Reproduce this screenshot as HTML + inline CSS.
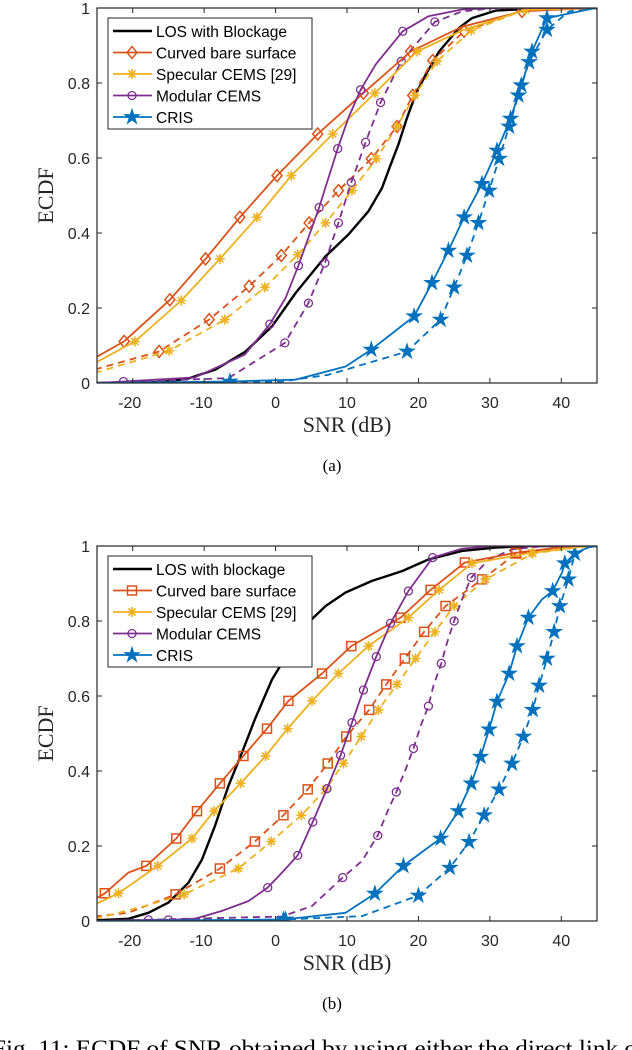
<!DOCTYPE html>
<html><head><meta charset="utf-8"><style>
html,body{margin:0;padding:0;background:#fff;width:632px;height:1050px;overflow:hidden}
svg{display:block}
</style></head><body>
<svg id="fig" width="632" height="1050" xmlns="http://www.w3.org/2000/svg">
<text x="-8" y="1056" font-family="Liberation Serif, serif" font-size="23" textLength="645" lengthAdjust="spacingAndGlyphs" fill="#000">Fig. 11: ECDF of SNR obtained by using either the direct link o</text>
</svg>
<script>
// ---- data: panel (a) ----
const xTicks=[-20,-10,0,10,20,30,40];
const yTicks=[0,0.2,0.4,0.6,0.8,1];
const yTickLabels=["0","0.2","0.4","0.6","0.8","1"];
const legendA=["LOS with Blockage","Curved bare surface","Specular CEMS [29]","Modular CEMS","CRIS"];
const legendB=["LOS with blockage","Curved bare surface","Specular CEMS [29]","Modular CEMS","CRIS"];

const aLosX=[-25,-15.9,-12.2,-8.4,-4.2,-0.5,2.8,7.0,10.2,13.0,14.9,16.1,17.2,18.4,19.6,21.0,22.9,25.7,27.5,30.8,35.5,45];
const aLosY=[0,0.003,0.012,0.036,0.084,0.151,0.24,0.338,0.396,0.458,0.52,0.582,0.636,0.707,0.769,0.822,0.884,0.947,0.973,0.993,0.998,1];
const aCurX=[-25.3,-21.2,-14.8,-9.8,-5.0,0.2,5.9,12.3,18.9,26.1,34.5,44.8];
const aCurY=[0.067,0.111,0.222,0.331,0.442,0.553,0.664,0.773,0.884,0.95,0.991,1];
const aCurMk=[1,2,3,4,5,6,7,8,10];
const aSpeX=[-25.3,-19.7,-13.2,-7.8,-2.6,2.2,8.0,13.9,19.8,26.1,35,44.8];
const aSpeY=[0.053,0.111,0.22,0.331,0.442,0.553,0.664,0.773,0.884,0.94,0.995,1];
const aSpeMk=[1,2,3,4,5,6,7,8,10];
const aCurDX=[-25.3,-16.3,-9.3,-3.7,0.8,4.7,8.8,13.4,17.0,19.2,22.0,26.4,34.5,44.8];
const aCurDY=[0.036,0.084,0.169,0.258,0.34,0.427,0.513,0.598,0.684,0.767,0.86,0.938,0.993,1];
const aCurDMk=[1,2,3,4,5,6,7,8,9,10,11];
const aSpeDX=[-25.3,-14.9,-7.1,-1.5,3.1,7.0,10.7,14.1,17.0,19.5,22.6,27.4,35.0,44.8];
const aSpeDY=[0.027,0.086,0.169,0.255,0.342,0.427,0.513,0.598,0.684,0.767,0.858,0.94,0.996,1];
const aSpeDMk=[1,2,3,4,5,6,7,8,9,10,11];
const aModX=[-25,-21.3,-11.3,-4.3,-0.8,1.4,3.2,6.1,8.7,10.2,11.9,14.0,17.8,21.4,26.1,30.8,45];
const aModY=[0,0.004,0.015,0.076,0.157,0.227,0.313,0.468,0.625,0.707,0.782,0.849,0.938,0.978,0.996,1,1];
const aModMk=[1,4,6,7,8,10,12];
const aModDX=[-25,-6.6,1.3,4.6,6.9,8.8,10.6,12.6,14.7,17.6,22.3,26.1,30.8,45];
const aModDY=[0,0.013,0.107,0.213,0.32,0.427,0.535,0.642,0.748,0.858,0.963,0.991,1,1];
const aModDMk=[2,3,4,5,6,7,8,9,10];
const aCrisX=[-25,-6.4,2.8,9.8,13.4,19.4,21.9,24.2,26.4,28.9,31.0,32.9,34.4,35.9,38.0,44.8];
const aCrisY=[0,0.004,0.009,0.044,0.089,0.178,0.267,0.353,0.442,0.531,0.62,0.705,0.794,0.884,0.973,1];
const aCrisMk=[1,4,5,6,7,8,9,10,11,12,13,14];
const aCrisDX=[-25,0.9,7.4,18.4,23.1,25.0,26.8,28.4,29.9,31.3,32.7,34.0,35.5,38.0,41.1,44.8];
const aCrisDY=[0,0.004,0.022,0.084,0.169,0.255,0.34,0.427,0.513,0.598,0.684,0.767,0.856,0.942,0.991,1];
const aCrisDMk=[3,4,5,6,7,8,9,10,11,12,13];

// ---- data: panel (b) ----
const bLosX=[-25.3,-20.6,-17.8,-15.0,-12.2,-10.3,-8.5,-6.6,-4.7,-2.9,-0.5,1.8,4.6,7.0,9.8,13.5,17.7,21.4,26.1,30.8,35.5,45];
const bLosY=[0.002,0.006,0.022,0.049,0.102,0.164,0.253,0.36,0.449,0.538,0.644,0.716,0.796,0.84,0.876,0.907,0.933,0.964,0.987,0.996,1,1];
const bCurX=[-25.3,-23.9,-20.6,-18.1,-13.9,-11.0,-7.8,-4.5,-1.2,1.8,6.5,10.6,17.5,21.7,26.5,33.6,40.1,45];
const bCurY=[0.058,0.074,0.129,0.147,0.22,0.293,0.367,0.44,0.513,0.587,0.66,0.733,0.809,0.883,0.956,0.982,0.997,1];
const bCurMk=[1,3,4,5,6,7,8,9,10,11,12,13,14,15];
const bSpeX=[-25.3,-22.0,-16.5,-11.7,-8.6,-4.9,-1.4,1.7,5.1,8.8,13.0,18.6,22.9,27.5,35.9,42.5,45];
const bSpeY=[0.044,0.074,0.147,0.22,0.293,0.367,0.44,0.513,0.587,0.66,0.733,0.809,0.883,0.954,0.982,0.997,1];
const bSpeMk=[1,2,3,4,5,6,7,8,9,10,11,12,13,14];
const bCurDX=[-25.3,-20.6,-14.0,-7.8,-2.9,1.1,4.5,7.3,9.9,13.1,15.5,18.1,20.8,23.8,28.9,33.7,40.1,45];
const bCurDY=[0.012,0.022,0.071,0.14,0.212,0.282,0.351,0.42,0.492,0.563,0.631,0.7,0.771,0.84,0.911,0.98,0.997,1];
const bCurDMk=[2,3,4,5,6,7,8,9,10,11,12,13,14,15];
const bSpeDX=[-25.3,-18.3,-12.8,-5.2,-0.6,3.6,7.0,9.5,12.0,14.4,17.0,19.6,22.3,25.0,29.4,36.0,42.5,45];
const bSpeDY=[0.006,0.04,0.071,0.14,0.212,0.282,0.351,0.42,0.492,0.563,0.631,0.7,0.771,0.84,0.911,0.98,0.997,1];
const bSpeDMk=[2,3,4,5,6,7,8,9,10,11,12,13,14,15];
const bModX=[-25,-17.8,-15.0,-11.3,-7.5,-3.8,-1.1,0.9,3.1,5.2,7.2,9.1,10.7,12.3,14.1,16.1,18.6,22.0,26.1,30.8,45];
const bModY=[0,0.003,0.003,0.006,0.027,0.053,0.089,0.129,0.175,0.264,0.353,0.442,0.529,0.616,0.705,0.794,0.88,0.969,0.993,1,1];
const bModMk=[1,2,6,8,9,10,11,12,13,14,15,16,17];
const bModDX=[-25,0.9,5.1,9.4,12.1,14.3,15.6,16.9,18.2,19.3,20.3,21.4,22.1,23.2,24.0,25.0,26.1,27.4,29.9,33.1,37.8,45];
const bModDY=[0,0.012,0.04,0.116,0.16,0.228,0.289,0.344,0.404,0.46,0.52,0.573,0.627,0.687,0.742,0.8,0.858,0.916,0.964,0.991,1,1];
const bModDMk=[3,5,7,9,11,13,15,17];
const bCrisX=[-25,1.1,9.8,13.9,17.9,21.0,23.1,24.5,25.6,26.6,27.4,28.7,29.9,31.0,32.7,33.8,35.4,37.3,38.8,40.1,40.5,42.0,43.9,45];
const bCrisY=[0,0.004,0.022,0.073,0.147,0.191,0.22,0.262,0.293,0.335,0.367,0.438,0.511,0.585,0.66,0.733,0.809,0.858,0.88,0.929,0.954,0.982,0.997,1];
const bCrisMk=[1,3,4,6,8,10,11,12,13,14,15,16,18,20];
const bCrisDX=[-25,1.4,12.1,20.0,24.4,27.1,29.2,31.3,33.1,34.7,36.0,36.9,38.0,39.0,39.8,41.0,41.9,43.9,45];
const bCrisDY=[0,0.004,0.013,0.068,0.142,0.211,0.282,0.351,0.42,0.492,0.563,0.628,0.7,0.771,0.84,0.911,0.98,0.997,1];
const bCrisDMk=[1,3,4,5,6,7,8,9,10,11,12,13,14,15,16];

const C={los:"#000000",cur:"#D95319",spe:"#EDB120",mod:"#7E2F8E",cris:"#0072BD"};
const NS="http://www.w3.org/2000/svg";
const svg=document.getElementById('fig');
function mk(tag,attrs,parent){const e=document.createElementNS(NS,tag);for(const k in attrs)e.setAttribute(k,attrs[k]);(parent||svg).appendChild(e);return e;}

function marker(g,type,cx,cy,color){
  let e;
  if(type==='diamond'){e=mk('polygon',{points:`${cx},${cy-6} ${cx+5},${cy} ${cx},${cy+6} ${cx-5},${cy}`,fill:'none',stroke:color,'stroke-width':1.5},g);}
  else if(type==='square'){e=mk('rect',{x:cx-4.5,y:cy-4.5,width:9,height:9,fill:'none',stroke:color,'stroke-width':1.5},g);}
  else if(type==='circle'){e=mk('circle',{cx:cx,cy:cy,r:4,fill:'none',stroke:color,'stroke-width':1.3},g);}
  else if(type==='aster'){let d='';for(let i=0;i<4;i++){const a=i*Math.PI/4;d+=`M${cx-5*Math.cos(a)},${cy-5*Math.sin(a)}L${cx+5*Math.cos(a)},${cy+5*Math.sin(a)}`;}e=mk('path',{d:d,stroke:color,'stroke-width':1.6,fill:'none'},g);}
  else if(type==='star'){let p=[];for(let i=0;i<10;i++){const r=i%2?3:8;const a=-Math.PI/2+i*Math.PI/5;p.push((cx+r*Math.cos(a)).toFixed(1)+','+(cy+r*Math.sin(a)).toFixed(1));}e=mk('polygon',{points:p.join(' '),fill:color,stroke:color,'stroke-width':0.8},g);}
  
  
}

function panel(id,top,label,legend,series){
  const L=97,R=597,T=top,B=top+375;
  const sx=v=>L+(v+25)/70*(R-L);
  const sy=v=>B-v*(B-T);
  const g=mk('g',{});
  
  
  mk('rect',{x:L,y:T,width:R-L,height:B-T,fill:'#fff'},g);
  const clipId='clip'+id;
  const cp=mk('clipPath',{id:clipId},g);mk('rect',{x:L,y:T,width:R-L,height:B-T},cp);
  const plot=mk('g',{'clip-path':`url(#${clipId})`},g);
  series.forEach(s=>{
    const sg=mk('g',{},plot);
    
    
    const pts=s.x.map((v,i)=>sx(v).toFixed(1)+','+sy(s.y[i]).toFixed(1)).join(' ');
    const pl=mk('polyline',{points:pts,fill:'none',stroke:s.c,'stroke-width':s.c==='#000000'?2.4:1.8,'stroke-dasharray':s.dash?'7,5':'none','stroke-linejoin':'round'},sg);
    
    
    (s.mk||[]).forEach(i=>marker(sg,s.m,sx(s.x[i]),sy(s.y[i]),s.c));
  });
  mk('rect',{x:L,y:T,width:R-L,height:B-T,fill:'none',stroke:'#262626','stroke-width':1.2},g);
  xTicks.forEach(v=>{
    const x=sx(v);
    mk('line',{x1:x,x2:x,y1:B,y2:B-5,stroke:'#262626'},g);
    mk('line',{x1:x,x2:x,y1:T,y2:T+5,stroke:'#262626'},g);
    const t=mk('text',{x:x-(v<0?3:0),y:B+25,'text-anchor':'middle','font-family':'Liberation Sans, sans-serif','font-size':16,fill:'#262626'},g);
    t.textContent=String(v);
    
    
  });
  yTicks.forEach((v,i)=>{
    const y=sy(v);
    mk('line',{x1:L,x2:L+5,y1:y,y2:y,stroke:'#262626'},g);
    mk('line',{x1:R,x2:R-5,y1:y,y2:y,stroke:'#262626'},g);
    const t=mk('text',{x:L-7,y:y+6,'text-anchor':'end','font-family':'Liberation Sans, sans-serif','font-size':16,fill:'#262626'},g);
    t.textContent=yTickLabels[i];
    
    
  });
  const yl=mk('text',{x:0,y:0,transform:`translate(53,${(T+B)/2}) rotate(-90)`,'text-anchor':'middle','font-family':'Liberation Serif, serif','font-size':22,fill:'#262626'},g);
  yl.textContent='ECDF';
  
  
  const xl=mk('text',{x:(L+R)/2,y:B+49,'text-anchor':'middle','font-family':'Liberation Serif, serif','font-size':22,fill:'#262626'},g);
  xl.textContent='SNR (dB)';
  
  
  const sl=mk('text',{x:332,y:B+88,'text-anchor':'middle','font-family':'Liberation Serif, serif','font-size':17,fill:'#000'},g);
  sl.textContent=label;
  
  
  const lg=mk('g',{},g);
  
  
  mk('rect',{x:108,y:T+10,width:204,height:111,fill:'#fff',stroke:'#262626','stroke-width':1},lg);
  const types=[null,id==='a'?'diamond':'square','aster','circle','star'];
  const cols=[C.los,C.cur,C.spe,C.mod,C.cris];
  legend.forEach((name,i)=>{
    const y=T+10+13+i*21.5;
    const e=mk('g',{},lg);
    
    
    mk('line',{x1:113,x2:152,y1:y,y2:y,stroke:cols[i],'stroke-width':i===0?2.4:1.8},e);
    if(types[i])marker(e,types[i],132,y,cols[i]);
    const t=mk('text',{x:156,y:y+6,'font-family':'Liberation Sans, sans-serif','font-size':15.5,fill:'#000'},e);
    t.textContent=name;
  });
}

panel('a',8,'(a)',legendA,[
 {name:'los',x:aLosX,y:aLosY,c:C.los},
 {name:'curved-dashed',x:aCurDX,y:aCurDY,c:C.cur,dash:1,m:'diamond',mk:aCurDMk},
 {name:'specular-dashed',x:aSpeDX,y:aSpeDY,c:C.spe,dash:1,m:'aster',mk:aSpeDMk},
 {name:'modular-dashed',x:aModDX,y:aModDY,c:C.mod,dash:1,m:'circle',mk:aModDMk},
 {name:'cris-dashed',x:aCrisDX,y:aCrisDY,c:C.cris,dash:1,m:'star',mk:aCrisDMk},
 {name:'curved',x:aCurX,y:aCurY,c:C.cur,m:'diamond',mk:aCurMk},
 {name:'specular',x:aSpeX,y:aSpeY,c:C.spe,m:'aster',mk:aSpeMk},
 {name:'modular',x:aModX,y:aModY,c:C.mod,m:'circle',mk:aModMk},
 {name:'cris',x:aCrisX,y:aCrisY,c:C.cris,m:'star',mk:aCrisMk}
]);
panel('b',546,'(b)',legendB,[
 {name:'los',x:bLosX,y:bLosY,c:C.los},
 {name:'curved-dashed',x:bCurDX,y:bCurDY,c:C.cur,dash:1,m:'square',mk:bCurDMk},
 {name:'specular-dashed',x:bSpeDX,y:bSpeDY,c:C.spe,dash:1,m:'aster',mk:bSpeDMk},
 {name:'modular-dashed',x:bModDX,y:bModDY,c:C.mod,dash:1,m:'circle',mk:bModDMk},
 {name:'cris-dashed',x:bCrisDX,y:bCrisDY,c:C.cris,dash:1,m:'star',mk:bCrisDMk},
 {name:'curved',x:bCurX,y:bCurY,c:C.cur,m:'square',mk:bCurMk},
 {name:'specular',x:bSpeX,y:bSpeY,c:C.spe,m:'aster',mk:bSpeMk},
 {name:'modular',x:bModX,y:bModY,c:C.mod,m:'circle',mk:bModMk},
 {name:'cris',x:bCrisX,y:bCrisY,c:C.cris,m:'star',mk:bCrisMk}
]);
</script>
</body></html>
